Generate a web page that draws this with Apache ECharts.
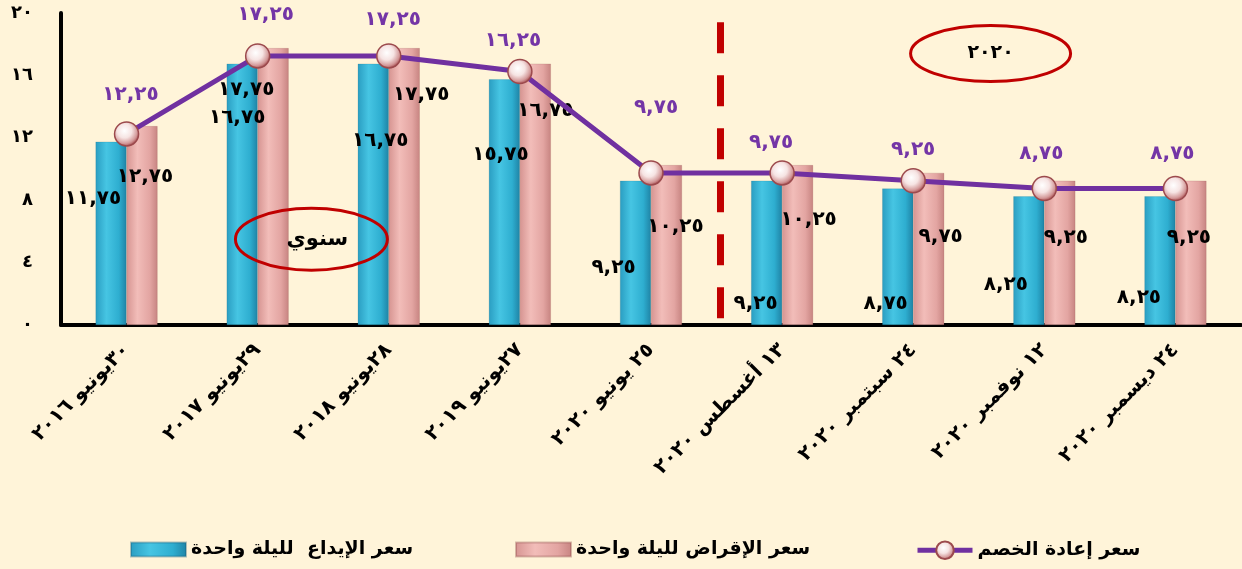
<!DOCTYPE html>
<html lang="ar">
<head>
<meta charset="utf-8">
<script src="https://cdn.jsdelivr.net/npm/echarts@6/dist/echarts.min.js"></script>
<style>
  html, body { margin: 0; padding: 0; background: #fff4d9; }
  #chart { width: 1242px; height: 569px; }
</style>
</head>
<body>
<div id="chart"></div>
<script>
// Policy rates of the central bank, overnight deposit / lending and discount rate
const categories = [
  '٣٠يونيو ٢٠١٦',
  '٢٩يونيو ٢٠١٧',
  '٢٨يونيو ٢٠١٨',
  '٢٧يونيو ٢٠١٩',
  '٢٥ يونيو ٢٠٢٠',
  '١٣ أغسطس ٢٠٢٠',
  '٢٤ سبتمبر ٢٠٢٠',
  '١٢ نوفمبر ٢٠٢٠',
  '٢٤ ديسمبر ٢٠٢٠'
];
const depositRate  = [11.75, 16.75, 16.75, 15.75, 9.25, 9.25, 8.75, 8.25, 8.25];
const lendingRate  = [12.75, 17.75, 17.75, 16.75, 10.25, 10.25, 9.75, 9.25, 9.25];
const discountRate = [12.25, 17.25, 17.25, 16.25, 9.75, 9.75, 9.25, 8.75, 8.75];
const yTickLabels  = ['٠', '٤', '٨', '١٢', '١٦', '٢٠'];

const seriesNames = ['سعر الإيداع  لليلة واحدة', 'سعر الإقراض لليلة واحدة', 'سعر إعادة الخصم'];
const periodNotes = ['سنوي', '٢٠٢٠'];

// Hand-placed label nudges (pixels) so the figures don't collide
const depositLabelShift  = [[-18, -35], [-5, -77], [7, -54], [-4, -47], [-22, 15], [-11, 51], [-12, 47], [-23, 24], [-21, 37]];
const lendingLabelShift  = [[3, -49], [-27, -97], [17, -92], [10, -84], [9, -18], [11, -25], [12, -12], [6, -15], [-2, -15]];
const discountLabelShift = [[4, -39], [8, -41], [4, -36], [-7, -31], [5, -65], [-11, -30], [0, -31], [-3, -35], [-3, -35]];

const AR_DIGITS = '٠١٢٣٤٥٦٧٨٩';
function toArabic(str) {
  return String(str).replace(/[0-9]/g, d => AR_DIGITS[+d]);
}
function fmtRate(v) {
  return toArabic(v.toFixed(2).replace('.', ','));
}

const FONT = "'DejaVu Sans', sans-serif";

function withLabels(values, shifts) {
  return values.map((v, i) => ({
    value: v,
    label: { offset: shifts[i] }
  }));
}

const blueFill = new echarts.graphic.LinearGradient(0, 0, 1, 0, [
  { offset: 0, color: '#2a9dc1' },
  { offset: 0.35, color: '#46c5e3' },
  { offset: 0.75, color: '#2eaed0' },
  { offset: 1, color: '#1f83a5' }
]);
const pinkFill = new echarts.graphic.LinearGradient(0, 0, 1, 0, [
  { offset: 0, color: '#d69491' },
  { offset: 0.35, color: '#f2bdb9' },
  { offset: 0.75, color: '#e3a5a2' },
  { offset: 1, color: '#c78481' }
]);
const markerFill = new echarts.graphic.RadialGradient(0.42, 0.38, 0.62, [
  { offset: 0, color: '#ffffff' },
  { offset: 0.45, color: '#f6e4e3' },
  { offset: 0.8, color: '#d49a9a' },
  { offset: 1, color: '#a94f52' }
]);

const chart = echarts.init(document.getElementById('chart'), null, { renderer: 'canvas' });

const legendText = { fontFamily: FONT, fontWeight: 'bold', fontSize: 19, color: '#000' };

const option = {
  backgroundColor: '#fff4d9',
  animation: false,
  grid: { left: 61, right: 1, top: 13, bottom: 244, containLabel: false },
  legend: [
    { data: [seriesNames[0]], left: 125, bottom: 5, itemWidth: 55, itemHeight: 14, icon: 'rect', textStyle: legendText },
    { data: [seriesNames[1]], left: 510, bottom: 5, itemWidth: 55, itemHeight: 14, icon: 'rect', textStyle: legendText },
    {
      data: [seriesNames[2]], left: 910, bottom: 4, itemWidth: 55, itemHeight: 22,
      lineStyle: { width: 5, color: '#7030a0' },
      textStyle: legendText
    }
  ],
  xAxis: {
    type: 'category',
    data: categories,
    axisLine: { show: true, lineStyle: { color: '#000', width: 4 } },
    axisTick: { show: false },
    axisLabel: {
      rotate: 45,
      interval: 0,
      margin: 22,
      fontFamily: FONT,
      fontWeight: 'bold',
      fontSize: 20,
      color: '#000'
    }
  },
  yAxis: {
    type: 'value',
    min: 0,
    max: 20,
    interval: 4,
    splitLine: { show: false },
    axisTick: { show: false },
    axisLine: { show: true, lineStyle: { color: '#000', width: 4 } },
    axisLabel: {
      margin: 28,
      fontFamily: FONT,
      fontWeight: 'bold',
      fontSize: 18,
      color: '#000',
      formatter: v => yTickLabels[Math.round(v / 4)]
    }
  },
  series: [
    {
      name: seriesNames[0],
      type: 'bar',
      barWidth: 31,
      barGap: '0%',
      itemStyle: { color: blueFill, borderColor: 'rgba(20,90,120,0.35)', borderWidth: 0.5 },
      label: {
        show: true,
        position: 'inside',
        fontFamily: FONT,
        fontWeight: 'bold',
        fontSize: 20,
        color: '#000',
        formatter: p => fmtRate(p.value)
      },
      data: withLabels(depositRate, depositLabelShift)
    },
    {
      name: seriesNames[1],
      type: 'bar',
      barWidth: 31,
      barGap: '0%',
      itemStyle: { color: pinkFill, borderColor: 'rgba(140,70,70,0.35)', borderWidth: 0.5 },
      label: {
        show: true,
        position: 'inside',
        fontFamily: FONT,
        fontWeight: 'bold',
        fontSize: 20,
        color: '#000',
        formatter: p => fmtRate(p.value)
      },
      data: withLabels(lendingRate, lendingLabelShift)
    },
    {
      name: seriesNames[2],
      type: 'line',
      z: 5,
      symbol: 'circle',
      symbolSize: 24,
      lineStyle: { color: '#7030a0', width: 5 },
      itemStyle: { color: markerFill, borderColor: '#9c4a4d', borderWidth: 1.5 },
      label: {
        show: true,
        position: 'inside',
        fontFamily: FONT,
        fontWeight: 'bold',
        fontSize: 20,
        color: '#7435a6',
        formatter: p => fmtRate(p.value)
      },
      data: withLabels(discountRate, discountLabelShift)
    }
  ]
};

chart.setOption(option);

// Annotations anchored to the axes: the dashed divider between the yearly
// and the 2020 readings, and the two ringed period captions.
function catX(pos) {
  const i = Math.floor(pos);
  const f = pos - i;
  const a = chart.convertToPixel({ xAxisIndex: 0 }, i);
  const b = chart.convertToPixel({ xAxisIndex: 0 }, Math.min(i + 1, categories.length - 1));
  return a + (b - a) * f;
}
function valY(v) {
  return chart.convertToPixel({ yAxisIndex: 0 }, v);
}

const dividerX = catX(4.53);
const ring1 = { x: catX(1.41), y: valY(5.5) };
const ring2 = { x: catX(6.59), y: valY(17.4) };

chart.setOption({
  graphic: [
    {
      type: 'line',
      z: 1,
      shape: { x1: dividerX, y1: valY(19.4), x2: dividerX, y2: valY(0) },
      style: { stroke: '#c00000', lineWidth: 7, lineDash: [31, 22] }
    },
    {
      type: 'ellipse',
      z: 10,
      shape: { cx: ring1.x, cy: ring1.y, rx: 76, ry: 31 },
      style: { fill: 'transparent', stroke: '#c00000', lineWidth: 3 }
    },
    {
      type: 'text',
      z: 11,
      x: ring1.x + 6,
      y: ring1.y,
      style: {
        text: periodNotes[0],
        font: "bold 21px " + FONT,
        fill: '#000',
        align: 'center',
        verticalAlign: 'middle'
      }
    },
    {
      type: 'ellipse',
      z: 10,
      shape: { cx: ring2.x, cy: ring2.y, rx: 80, ry: 28 },
      style: { fill: 'transparent', stroke: '#c00000', lineWidth: 3 }
    },
    {
      type: 'text',
      z: 11,
      x: ring2.x,
      y: ring2.y,
      style: {
        text: periodNotes[1],
        font: "bold 19px " + FONT,
        fill: '#000',
        align: 'center',
        verticalAlign: 'middle'
      }
    }
  ]
});
</script>
</body>
</html>
